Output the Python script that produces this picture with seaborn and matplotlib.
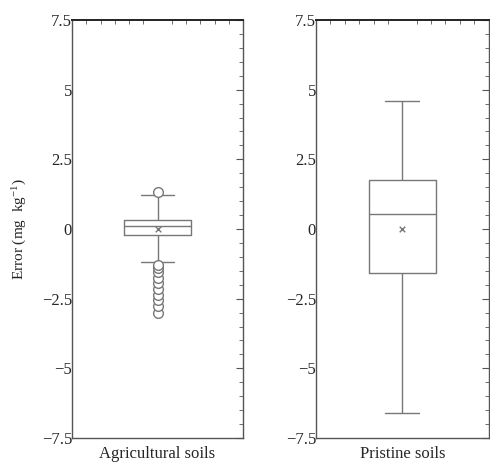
import numpy as np
import pandas as pd
import matplotlib
matplotlib.use("Agg")
import matplotlib.pyplot as plt
from matplotlib.ticker import MultipleLocator, FixedLocator
import seaborn as sns

# errors (mg kg^-1)
agri_errors = [-3.0, -2.75, -2.55, -2.35, -2.15, -1.95, -1.75, -1.55, -1.4, -1.3,
               -1.17, -0.2,
               -0.17, -0.14, -0.11, -0.08, -0.05, -0.02, 0.01, 0.04, 0.07, 0.09,
               0.11,
               0.13, 0.15, 0.17, 0.19, 0.21, 0.23, 0.25, 0.27, 0.29, 0.31,
               0.32,
               0.4, 0.5, 0.6, 0.7, 0.8, 0.9, 1.0, 1.1, 1.15,
               1.22, 1.33]
pristine_errors = [-6.6, -3.0, -1.58, -0.5, 0.54, 1.0, 1.76, 3.0, 4.6]
group_means = [0.0, 0.0]
groups = ["Agricultural soils", "Pristine soils"]

y_ticks = [-7.5, -5, -2.5, 0, 2.5, 5, 7.5]
y_labels = ["\u22127.5", "\u22125", "\u22122.5", "0", "2.5", "5", "7.5"]

sns.set_style("white")
plt.rcParams["font.family"] = ["Liberation Serif", "DejaVu Serif"]
plt.rcParams["mathtext.fontset"] = "custom"
plt.rcParams["mathtext.rm"] = "Liberation Serif"
plt.rcParams["mathtext.it"] = "Liberation Serif:italic"

fig = plt.figure(figsize=(4.9, 4.65), dpi=100)
ax1 = fig.add_axes([0.147, 0.058, 0.349, 0.899])
ax2 = fig.add_axes([0.645, 0.058, 0.352, 0.899])

grey = "#777777"
data_sets = [agri_errors, pristine_errors]

for ax, name, vals, mean in zip([ax1, ax2], groups, data_sets, group_means):
    df = pd.DataFrame({"group": name, "error": vals})
    sns.boxplot(data=df, x="group", y="error", ax=ax, fill=False, width=0.39,
                whis=1.9, color=grey, linewidth=1,
                flierprops=dict(marker="o", markersize=7, markeredgecolor=grey,
                                markerfacecolor="white", markeredgewidth=1),
                medianprops=dict(color=grey, linewidth=1))
    mdf = pd.DataFrame({"group": [name], "mean": [mean]})
    sns.stripplot(data=mdf, x="group", y="mean", ax=ax, jitter=False,
                  marker="x", size=4, color=grey, linewidth=1)
    ax.set_xlim(-0.5, 0.5)
    ax.set_ylim(-7.5, 7.5)
    ax.yaxis.set_major_locator(FixedLocator(y_ticks))
    ax.set_yticklabels(y_labels)
    ax.yaxis.set_minor_locator(MultipleLocator(0.5))
    ax.xaxis.set_minor_locator(MultipleLocator(1 / 12))
    ax.tick_params(axis="both", which="both", direction="in", top=True,
                   right=True, color="#555555")
    ax.tick_params(axis="y", which="major", length=5, labelsize=12, pad=0)
    ax.tick_params(axis="y", which="minor", length=3)
    ax.tick_params(axis="x", which="major", length=0, labelsize=12, pad=6)
    ax.tick_params(axis="x", which="minor", length=3)
    for side, sp in ax.spines.items():
        sp.set_color("#555555")
        sp.set_linewidth(1)
    ax.spines["top"].set_color("#222222")
    ax.spines["top"].set_linewidth(1.4)
    ax.set_xlabel("")
    ax.set_ylabel("")

ax1.set_ylabel("Error (mg  kg$^{-1}$)", fontsize=11, labelpad=9)

fig.savefig("out.png", dpi=100)
